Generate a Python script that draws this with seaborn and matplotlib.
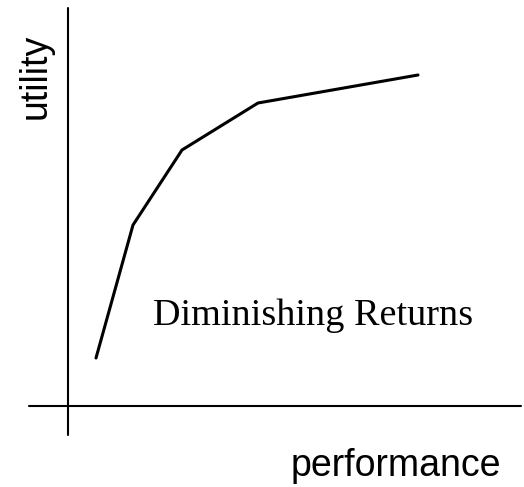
"""
Diminishing returns sketch: utility vs performance.
"""
import pandas as pd
import seaborn as sns
import matplotlib.pyplot as plt

# values (arbitrary units, origin at the axis crossing)
performance = [2.8, 6.5, 11.4, 19.0, 35.0]
utility = [4.8, 18.1, 25.6, 30.3, 33.1]

df = pd.DataFrame({'performance': performance, 'utility': utility})

sns.set_style('white')

fig = plt.figure(figsize=(5.24, 4.87), dpi=100)
ax = fig.add_axes([0, 0, 1, 1])

sns.lineplot(data=df, x='performance', y='utility', color='black',
             linewidth=2.2, sort=False, ax=ax)

# hand-drawn style axes
ax.plot([-3.9, 45.3], [0, 0], color='black', linewidth=1.5)
ax.plot([0, 0], [-2.9, 39.8], color='black', linewidth=1.5)

ax.text(-3.2, 33.0, 'utility', rotation=90, ha='center', va='center',
        fontsize=27, family='Liberation Sans', color='black')
ax.text(32.8, -7.0, 'performance', ha='center', va='baseline',
        fontsize=27, family='Liberation Sans', color='black')
ax.text(24.55, 8.1, 'Diminishing Returns', ha='center', va='baseline',
        fontsize=27.5, family='Liberation Serif', color='black')

ax.set_xlim(-6.8, 45.6)
ax.set_ylim(-8.1, 40.6)
ax.axis('off')

fig.savefig('out.png', dpi=100)
